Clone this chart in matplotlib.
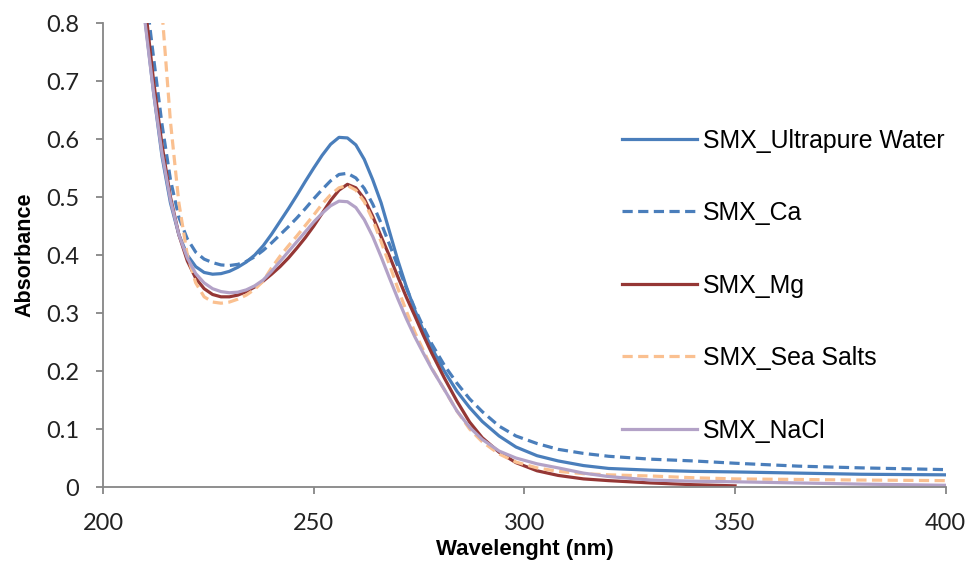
import numpy as np
import matplotlib.pyplot as plt

# wavelength grid (nm) shared by all spectra
wl = [208, 210, 212, 214, 216, 218, 220, 222, 224, 226, 228, 230, 232, 234,
      236, 238, 240, 242, 244, 246, 248, 250, 252, 254, 256, 258, 260, 262,
      264, 266, 268, 270, 272, 274, 276, 278, 281, 284, 287, 290, 294, 298,
      303, 308, 314, 320, 330, 340, 350, 365, 380, 400]

ultrapure = [0.93, 0.805, 0.68, 0.57, 0.49, 0.435, 0.400, 0.380, 0.370, 0.367,
             0.368, 0.372, 0.379, 0.388, 0.400, 0.416, 0.436, 0.458, 0.480,
             0.503, 0.527, 0.550, 0.572, 0.591, 0.603, 0.602, 0.590, 0.565,
             0.530, 0.490, 0.440, 0.390, 0.345, 0.305, 0.270, 0.240, 0.200,
             0.165, 0.137, 0.113, 0.088, 0.069, 0.054, 0.045, 0.037, 0.032,
             0.029, 0.027, 0.026, 0.024, 0.022, 0.021]

ca = [1.0, 0.86, 0.74, 0.625, 0.53, 0.465, 0.428, 0.405, 0.393, 0.387, 0.383,
      0.382, 0.384, 0.389, 0.397, 0.408, 0.421, 0.435, 0.449, 0.464, 0.480,
      0.497, 0.513, 0.528, 0.539, 0.541, 0.533, 0.515, 0.488, 0.455, 0.418,
      0.380, 0.343, 0.308, 0.276, 0.247, 0.210, 0.179, 0.152, 0.130, 0.105,
      0.088, 0.075, 0.065, 0.058, 0.053, 0.048, 0.045, 0.041, 0.036, 0.033,
      0.030]

mg = [0.95, 0.83, 0.70, 0.59, 0.50, 0.435, 0.390, 0.360, 0.342, 0.332, 0.328,
      0.328, 0.331, 0.337, 0.345, 0.355, 0.367, 0.380, 0.395, 0.412, 0.430,
      0.450, 0.472, 0.494, 0.512, 0.522, 0.516, 0.497, 0.467, 0.432, 0.398,
      0.362, 0.327, 0.295, 0.262, 0.231, 0.188, 0.148, 0.112, 0.085, 0.060,
      0.042, 0.028, 0.020, 0.014, 0.011, 0.007, 0.004, 0.002,
      np.nan, np.nan, np.nan]

sea_salts = [1.25, 1.08, 0.95, 0.82, 0.63, 0.49, 0.40, 0.352, 0.328, 0.319,
             0.317, 0.319, 0.324, 0.331, 0.341, 0.355, 0.378, 0.398, 0.416,
             0.433, 0.451, 0.469, 0.488, 0.504, 0.516, 0.520, 0.512, 0.492,
             0.461, 0.423, 0.383, 0.342, 0.303, 0.267, 0.236, 0.205, 0.168,
             0.131, 0.100, 0.078, 0.057, 0.043, 0.033, 0.027, 0.023, 0.021,
             0.019, 0.016, 0.014, 0.013, 0.012, 0.011]

nacl = [0.92, 0.80, 0.68, 0.575, 0.495, 0.435, 0.395, 0.368, 0.352, 0.342,
        0.337, 0.335, 0.336, 0.340, 0.347, 0.357, 0.372, 0.389, 0.406, 0.423,
        0.440, 0.457, 0.472, 0.485, 0.493, 0.492, 0.482, 0.461, 0.432, 0.397,
        0.360, 0.324, 0.290, 0.259, 0.231, 0.204, 0.168, 0.131, 0.103, 0.082,
        0.062, 0.050, 0.040, 0.033, 0.024, 0.018, 0.012, 0.010, 0.009, 0.007,
        0.005, 0.003]

labels = ["SMX_Ultrapure Water", "SMX_Ca", "SMX_Mg", "SMX_Sea Salts", "SMX_NaCl"]

dash = (0, (3.2, 1.7))
fig = plt.figure(figsize=(9.72, 5.64), dpi=100)
ax = fig.add_axes([0.106, 0.1365, 0.867, 0.8225])

ax.plot(wl, ultrapure, color="#4A7EBB", lw=2.3, label=labels[0])
ax.plot(wl, ca, color="#4A7EBB", lw=2.3, ls=dash, label=labels[1])
ax.plot(wl, mg, color="#953735", lw=2.3, label=labels[2])
ax.plot(wl, sea_salts, color="#FAC090", lw=2.3, ls=dash, label=labels[3])
ax.plot(wl, nacl, color="#B3A2C7", lw=2.3, label=labels[4])

ax.set_xlim(200, 400)
ax.set_ylim(0, 0.8)
ax.set_xticks([200, 250, 300, 350, 400])
ax.set_yticks(np.arange(0, 0.81, 0.1))
ax.set_yticklabels(["0", "0.1", "0.2", "0.3", "0.4", "0.5", "0.6", "0.7", "0.8"])

for s in ["top", "right"]:
    ax.spines[s].set_visible(False)
for s in ["left", "bottom"]:
    ax.spines[s].set_color("#868686")
    ax.spines[s].set_linewidth(1.3)
ax.tick_params(direction="out", length=5, width=1.3, color="#868686",
               labelsize=17, labelcolor="#222222")
ax.tick_params(axis="x", pad=14)
ax.tick_params(axis="y", pad=12)
for t in ax.get_xticklabels() + ax.get_yticklabels():
    t.set_fontfamily(["Lato", "DejaVu Sans"])

ax.set_xlabel("Wavelenght (nm)", fontsize=16, fontweight="bold",
              family=["Liberation Sans", "DejaVu Sans"], labelpad=3)
ax.set_ylabel("Absorbance", fontsize=15.5, fontweight="bold",
              family=["Liberation Sans", "DejaVu Sans"], labelpad=8)

leg = fig.legend(loc="upper left", bbox_to_anchor=(0.64, 0.772),
                 frameon=False, borderpad=0, borderaxespad=0,
                 handlelength=3.0, handletextpad=0.27, labelspacing=1.95,
                 prop={"family": "Liberation Sans", "size": 17.9})

fig.savefig("out.png", dpi=100)
